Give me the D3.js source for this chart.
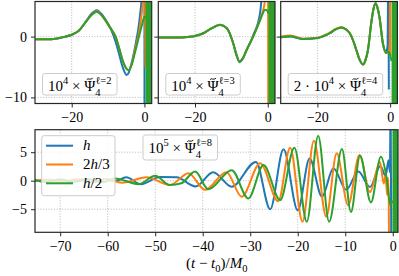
<!DOCTYPE html>
<html><head><meta charset="utf-8">
<script src="https://cdn.jsdelivr.net/npm/d3@7"></script>
<style>
body{margin:0;background:#fff}
svg{display:block}
text{font-family:"Liberation Serif","DejaVu Serif",serif;fill:#000;white-space:pre}
</style></head>
<body><svg id="c" width="399" height="276"></svg>
<script>
// ---------------- DATA ----------------
const seriesNames = ["h", "2h/3", "h/2"];
const seriesColors = ["#1f77b4", "#ff7f0e", "#2ca02c"];

const topXTicks = [-20, 0];
const topYTicks = [0, -10];
const bottomXTicks = [-70, -60, -50, -40, -30, -20, -10, 0];
const bottomYTicks = [-5, 0, 5];

// l=2 panel (10^4 x Psi4)
const l2_t_h   = [-30,-27,-24,-22,-20,-18,-16,-14.5,-13.1,-11.5,-10,-9,-8,-7,-6,-4.9,-4.3,-3.5,-2.6,-1.3,-0.6,-0.2,0,0.03];
const l2_v_h   = [-0.45,-0.45,-0.3,-0.05,0.3,1.0,2.6,3.8,4.35,3.5,2.1,0.9,-0.7,-2.8,-5.0,-6.3,-5.9,-4.3,-1.8,3.0,7.5,12,15,-20];
const l2_t_o   = [-30,-27,-24,-22,-20,-18,-16,-14.5,-13.1,-11.5,-10,-9,-8,-7,-6,-4.9,-4.3,-3.5,-2.6,-1.3,-0.6,-0.2,0.15,0.3];
const l2_v_o   = [-0.45,-0.45,-0.3,-0.05,0.3,1.0,2.5,3.6,4.15,3.3,2.0,1.1,0.1,-1.8,-3.9,-5.3,-5.5,-4.5,-2.2,1.3,4.5,7,10,-5];
const l2_t_g   = [-30,-27,-24,-22,-20,-18,-16,-14.5,-13.1,-11.5,-10,-9,-8,-7,-6,-4.9,-4.3,-3.5,-2.6,-1.3,-0.6,-0.2,0,0.3];
const l2_v_g   = [-0.45,-0.45,-0.3,-0.05,0.3,1.0,2.5,3.6,4.1,3.3,2.0,1.1,0.1,-1.8,-3.9,-5.3,-5.5,-4.6,-2.6,0.5,2.1,3.0,3.3,3.0];
const l2_band  = [0.3, 2.0];

// l=3 panel
const l3_t_h   = [-30,-25,-22,-20,-17.7,-15.5,-13.1,-11.3,-10.3,-9.5,-8.6,-7.8,-6.8,-5.8,-4.0,-2.1,-1.5,-0.75];
const l3_v_h   = [-0.15,-0.15,-0.05,0.1,0.55,1.35,1.95,1.4,0.3,-1.1,-3.0,-4.2,-3.6,-2.2,0.2,3.9,7.5,12];
const l3_t_o   = [-30,-25,-22,-20,-17.7,-15.5,-13.1,-11.3,-10.3,-9.5,-8.6,-7.8,-6.8,-5.8,-4.0,-2.1,-1.5,-0.75,-0.2,0.1,0.17];
const l3_v_o   = [-0.15,-0.15,-0.05,0.1,0.55,1.35,1.95,1.4,0.3,-1.1,-3.0,-4.1,-3.5,-2.2,0.0,2.8,3.8,6.0,10,12,-20];
const l3_t_g   = [-30,-25,-22,-20,-17.7,-15.5,-13.1,-11.3,-10.3,-9.5,-8.6,-7.8,-6.8,-5.8,-4.0,-2.1,-1.5,-0.75,-0.2,0.2];
const l3_v_g   = [-0.15,-0.15,-0.05,0.1,0.55,1.35,1.9,1.4,0.3,-1.1,-3.0,-4.1,-3.5,-2.2,0.0,2.7,3.6,4.4,4.3,3.8];
const l3_band  = [0.2, 2.0];

// l=4 panel (2*10^4 x Psi4)
const l4_t_h   = [-30,-27.5,-24,-20,-18.3,-16.6,-15,-13.4,-12.2,-11.1,-10.2,-9.3,-8.4,-7.5,-6.8,-6.1,-5.2,-4.6,-4.0,-3.5,-2.9,-2.0,-1.07,-0.7,-0.5,-0.35];
const l4_v_h   = [-0.1,0.0,-0.4,-0.25,0.1,0.55,1.2,1.5,1.2,0.55,-0.6,-2.2,-3.8,-4.6,-3.9,-2.2,2.2,4.5,5.5,4.8,3.1,-1.1,-2.5,-1.5,12,-8.7];
const l4_t_o   = [-30,-27.5,-24,-20,-18.3,-16.6,-15,-13.4,-12.2,-11.1,-10.2,-9.3,-8.4,-7.5,-6.8,-6.1,-5.2,-4.6,-4.0,-3.5,-2.9,-2.0,-1.07,-0.3,-0.1,0.0,0.05,0.4];
const l4_v_o   = [0.0,0.2,-0.35,-0.2,0.15,0.65,1.25,1.55,1.2,0.55,-0.6,-2.2,-3.8,-4.6,-3.9,-2.2,2.2,4.5,5.5,4.8,3.1,-1.1,-2.7,-2.3,-1.0,12,-3.0,-3.0];
const l4_t_g   = [-30,-27.5,-24,-20,-18.3,-16.6,-15,-13.4,-12.2,-11.1,-10.2,-9.3,-8.4,-7.5,-6.8,-6.1,-5.2,-4.6,-4.0,-3.5,-2.9,-2.0,-1.07,-0.7,-0.3,0.4];
const l4_v_g   = [-0.1,0.05,-0.4,-0.25,0.1,0.55,1.2,1.5,1.2,0.55,-0.6,-2.2,-3.8,-4.6,-3.9,-2.2,2.2,4.5,5.5,4.8,3.1,-1.1,-2.7,-2.5,-2.6,-4.0];
const l4_band  = [0.4, 2.0];

// l=8 panel (10^5 x Psi4), bottom
const l8_t_h = [-75.3,-73,-70.5,-68,-65.5,-63,-60.5,-58.5,-56.1,-53,-49,-45.5,-41.5,-37.8,-33.9,-28.8,-25.8,-23.0,-20.0,-17.5,-14.9,-12.5,-9.8,-7.25,-4.8,-2.6,-1.5,-0.9,-0.6,-0.45,-0.3];
const l8_v_h = [0.1,-0.2,0.15,-0.25,0.2,-0.3,0.3,-0.1,0.6,-0.6,0.65,0.6,-1.0,1.5,-1.05,3.3,-5.0,5.5,-5.2,3.9,-2.8,2.2,-1.6,1.6,-1.1,2.6,0.8,3.6,1.5,15,-15];
const l8_t_o = [-75.3,-72.5,-69.5,-66.5,-63.5,-60.5,-57,-51.8,-46.9,-43,-39.5,-35,-31.8,-27.9,-24.1,-21.6,-19.0,-16.6,-14.0,-11.8,-9.4,-7.0,-4.8,-2.7,-1.9,-1.5,-1.2,-1.0,-0.85,-0.75];
const l8_v_o = [0.0,0.2,-0.2,0.25,-0.25,0.3,-0.35,0.6,-0.75,1.3,-1.6,1.5,-2.8,3.05,-3.6,5.8,-7.2,7.0,-6.3,4.8,-4.3,4.5,-2.0,3.3,-0.5,1.0,-2.5,0.5,-3.0,-15];
const l8_t_g = [-75.3,-73,-70,-67,-64,-61,-58.5,-53.5,-50,-46.9,-44.5,-41.6,-38.8,-33.9,-30.4,-27.2,-23.7,-20.7,-18.1,-15.7,-13.4,-10.7,-8.8,-6.9,-4.6,-2.5,-1.3,-0.5,-0.1];
const l8_v_g = [0.1,-0.15,0.2,-0.2,0.25,-0.25,0.4,-0.6,0.85,-0.75,-0.45,1.6,-1.5,1.85,-3.1,2.75,-3.4,5.8,-7.2,7.9,-7.2,5.55,-5.5,4.4,-3.8,4.2,0.5,-4.3,-3.5];
const l8_band = [-0.05, 1.1];

// ---------------- LAYOUT ----------------
const svg = d3.select("#c");
const FS = 14;     // tick / axis font
const LFS = 15;    // annotation font
const gridColor = "#b0b0b0";
const frameColor = "#262626";

const topPanels = [
  {left: 35, series: [[l2_t_h,l2_v_h],[l2_t_o,l2_v_o],[l2_t_g,l2_v_g]], band: l2_band,
   label: [{t:"10"},{t:"4",sup:1},{t:" × "},{t:"Ψ",tilde:1},{t:"4",sub:1},{t:"ℓ=2",sup:1,stack:1}], showY: true},
  {left: 158.3, series: [[l3_t_h,l3_v_h],[l3_t_o,l3_v_o],[l3_t_g,l3_v_g]], band: l3_band,
   label: [{t:"10"},{t:"4",sup:1},{t:" × "},{t:"Ψ",tilde:1},{t:"4",sub:1},{t:"ℓ=3",sup:1,stack:1}], showY: false},
  {left: 280.7, series: [[l4_t_h,l4_v_h],[l4_t_o,l4_v_o],[l4_t_g,l4_v_g]], band: l4_band,
   label: [{t:"2 · 10"},{t:"4",sup:1},{t:" × "},{t:"Ψ",tilde:1},{t:"4",sub:1},{t:"ℓ=4",sup:1,stack:1}], showY: false}
];
const topW = 116.7, topTop = 1.5, topBot = 103.5;

function rich(g, x, y, parts, size, subK) {
  const sk = subK === undefined ? 0.36 : subK;
  let cx = x, lastStart = x, lastEnd = x;
  parts.forEach(p => {
    const small = p.sub || p.sup;
    const fs = small ? size * 0.7 : size;
    const px = p.stack ? lastStart : cx;
    const dy = p.sub ? size * sk : (p.sup ? -size * 0.46 : 0);
    const t = g.append("text").attr("x", px).attr("y", y + dy)
      .attr("font-size", fs).attr("font-style", p.i ? "italic" : "normal").text(p.t);
    const w = t.node().getComputedTextLength();
    if (p.tilde) {
      const cxm = px + w / 2, ty = y - size * 0.8, hw = size * 0.2;
      g.append("path")
        .attr("d", `M${cxm - hw},${ty + 0.6} C${cxm - hw * 0.5},${ty - 1.4} ${cxm + hw * 0.1},${ty + 1.6} ${cxm + hw},${ty - 0.8}`)
        .attr("fill", "none").attr("stroke", "#000").attr("stroke-width", 0.9);
    }
    lastStart = px;
    cx = p.stack ? Math.max(lastEnd, px + w) : px + w;
    lastEnd = cx;
  });
  return cx - x;
}

function drawBox(g, x, y, w, h) {
  g.insert("rect", ":first-child").attr("x", x).attr("y", y).attr("width", w).attr("height", h)
    .attr("rx", 2.5).attr("fill", "#fff").attr("fill-opacity", 0.8)
    .attr("stroke", "#cccccc").attr("stroke-width", 1);
}

const lineGen = (xs, ys) => d3.line().x(d => xs(d[0])).y(d => ys(d[1])).curve(d3.curveMonotoneX);

function drawGrid(g, xs, ys, xTicks, yTicks, left, right, top, bot) {
  const grid = g.append("g");
  xTicks.forEach(t => grid.append("line").attr("x1", xs(t)).attr("x2", xs(t)).attr("y1", top).attr("y2", bot)
    .attr("stroke", gridColor).attr("stroke-width", 0.9).attr("stroke-dasharray", "1,1.7"));
  yTicks.forEach(t => grid.append("line").attr("y1", ys(t)).attr("y2", ys(t)).attr("x1", left).attr("x2", right)
    .attr("stroke", gridColor).attr("stroke-width", 0.9).attr("stroke-dasharray", "1,1.7"));
}
function drawFrameAndTicks(g, xs, ys, xTicks, yTicks, showY, left, right, top, bot) {
  const fmt = v => (v < 0 ? "−" + Math.abs(v) : String(v));
  const ax = g.append("g").attr("transform", `translate(0,${bot})`)
    .call(d3.axisBottom(xs).tickValues(xTicks).tickSize(4).tickSizeOuter(0).tickPadding(5).tickFormat(fmt));
  const ay = g.append("g").attr("transform", `translate(${left},0)`)
    .call(d3.axisLeft(ys).tickValues(yTicks).tickSize(4).tickSizeOuter(0).tickPadding(4).tickFormat(showY ? fmt : ""));
  [ax, ay].forEach(a => {
    a.select(".domain").remove();
    a.selectAll("line").attr("stroke", frameColor).attr("stroke-width", 1);
    a.selectAll("text").attr("font-size", FS).attr("font-family", null).style("fill", "#000");
  });
  g.append("rect").attr("x", left).attr("y", top).attr("width", right - left).attr("height", bot - top)
    .attr("fill", "none").attr("stroke", frameColor).attr("stroke-width", 1.2);
}

// ---- top panels ----
topPanels.forEach((p, i) => {
  const g = svg.append("g");
  const xs = d3.scaleLinear().domain([-30.1, 2.0]).range([p.left, p.left + topW]);
  const ys = d3.scaleLinear().domain([-11, 5.77]).range([topBot, topTop]);
  drawGrid(g, xs, ys, topXTicks, topYTicks, p.left, p.left + topW, topTop, topBot);
  const cid = "clipT" + i;
  svg.append("clipPath").attr("id", cid).append("rect")
    .attr("x", p.left).attr("y", topTop).attr("width", topW).attr("height", topBot - topTop);
  const lg = g.append("g").attr("clip-path", `url(#${cid})`);
  p.series.forEach((s, k) => {
    const pts = s[0].map((t, j) => [t, s[1][j]]);
    lg.append("path").attr("d", lineGen(xs, ys)(pts)).attr("fill", "none")
      .attr("stroke", seriesColors[k]).attr("stroke-width", 2).attr("stroke-linejoin", "round");
  });
  lg.append("rect").attr("x", xs(p.band[0])).attr("y", topTop)
    .attr("width", xs(p.band[1]) - xs(p.band[0])).attr("height", topBot - topTop).attr("fill", seriesColors[2]);
  const lb = g.append("g");
  const w = rich(lb, p.left + 13, 91, p.label, LFS);
  drawBox(lb, p.left + 7.5, 73.5, w + 11, 21.5);
  drawFrameAndTicks(g, xs, ys, topXTicks, topYTicks, p.showY, p.left, p.left + topW, topTop, topBot);
});

// ---- bottom panel ----
{
  const left = 35, right = 398, top = 129.7, bot = 232.3;
  const g = svg.append("g");
  const xs = d3.scaleLinear().domain([-75.3, 1.1]).range([left, right]);
  const ys = d3.scaleLinear().domain([-9.05, 8.95]).range([bot, top]);
  drawGrid(g, xs, ys, bottomXTicks, bottomYTicks, left, right, top, bot);
  svg.append("clipPath").attr("id", "clipB").append("rect")
    .attr("x", left).attr("y", top).attr("width", right - left).attr("height", bot - top);
  const lg = g.append("g").attr("clip-path", "url(#clipB)");
  [[l8_t_h, l8_v_h], [l8_t_o, l8_v_o], [l8_t_g, l8_v_g]].forEach((s, k) => {
    const pts = s[0].map((t, j) => [t, s[1][j]]);
    lg.append("path").attr("d", lineGen(xs, ys)(pts)).attr("fill", "none")
      .attr("stroke", seriesColors[k]).attr("stroke-width", 2).attr("stroke-linejoin", "round");
  });
  lg.append("rect").attr("x", xs(l8_band[0])).attr("y", top)
    .attr("width", xs(l8_band[1]) - xs(l8_band[0])).attr("height", bot - top).attr("fill", seriesColors[2]);

  const leg = g.append("g");
  const legLabels = [
    [{t:"h",i:1}],
    [{t:"2"},{t:"h",i:1},{t:"/3"}],
    [{t:"h",i:1},{t:"/2"}]
  ];
  const legY = [145.7, 164.5, 183.3];
  seriesNames.forEach((n, k) => {
    leg.append("line").attr("x1", 46).attr("x2", 73).attr("y1", legY[k]).attr("y2", legY[k])
      .attr("stroke", seriesColors[k]).attr("stroke-width", 2);
    rich(leg, 83, legY[k] + 4.5, legLabels[k], LFS);
  });
  drawBox(leg, 41.7, 135.7, 73.3, 60);

  const lb = g.append("g");
  const w = rich(lb, 148.5, 153, [{t:"10"},{t:"5",sup:1},{t:" × "},{t:"Ψ",tilde:1},{t:"4",sub:1},{t:"ℓ=8",sup:1,stack:1}], LFS);
  drawBox(lb, 143, 135, w + 11, 25);

  drawFrameAndTicks(g, xs, ys, bottomXTicks, bottomYTicks, true, left, right, top, bot);

  const xl = svg.append("g");
  const parts = [{t:"("},{t:"t",i:1},{t:" − "},{t:"t",i:1},{t:"0",sub:1},{t:")/"},{t:"M",i:1},{t:"0",sub:1}];
  const tmp = svg.append("g").attr("opacity", 0);
  const wl = rich(tmp, 0, 0, parts, LFS, 0.28);
  tmp.remove();
  rich(xl, 216.7 - wl / 2, 267.5, parts, LFS, 0.28);
}
</script>
</body></html>
